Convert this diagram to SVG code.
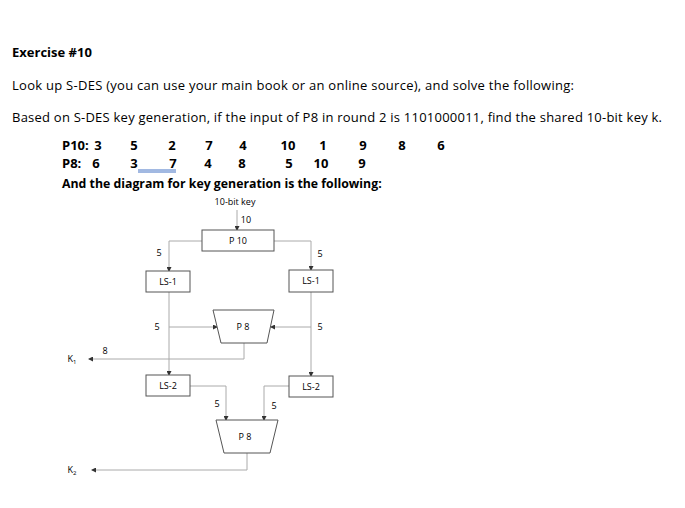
<svg xmlns="http://www.w3.org/2000/svg" width="685" height="508" viewBox="0 0 685 508">
<style>
.t{font-family:"Open Sans","Liberation Sans",sans-serif;font-size:13px;fill:#000}
.b{font-weight:bold}
.n{text-anchor:middle}
.s{font-family:"Open Sans","Liberation Sans",sans-serif;font-size:9px;fill:#000;text-anchor:middle}
.box{fill:#fff;stroke:#555;stroke-width:1}
.ln{fill:none;stroke:#aaa;stroke-width:1}
</style>
<defs><marker id="a" markerWidth="5" markerHeight="5" refX="4" refY="2.5" orient="auto"><path d="M0,0 L5,2.5 L0,5Z" fill="#333"/></marker></defs>
<rect width="685" height="508" fill="#fff"/>
<text class="t b" x="12" y="57">Exercise #10</text>
<text class="t" x="12" y="90" textLength="562">Look up S-DES (you can use your main book or an online source), and solve the following:</text>
<text class="t" x="12" y="122" textLength="650">Based on S-DES key generation, if the input of P8 in round 2 is 1101000011, find the shared 10-bit key k.</text>
<g class="t b">
<text x="62" y="150">P10:</text>
<text class="n" x="98" y="150">3</text><text class="n" x="134" y="150">5</text><text class="n" x="172" y="150">2</text><text class="n" x="209" y="150">7</text><text class="n" x="243" y="150">4</text><text class="n" x="288" y="150">10</text><text class="n" x="323" y="150">1</text><text class="n" x="363" y="150">9</text><text class="n" x="402" y="150">8</text><text class="n" x="441" y="150">6</text>
<text x="62" y="168">P8:</text>
<text class="n" x="96" y="168">6</text><text class="n" x="134" y="168">3</text><text class="n" x="173" y="168">7</text><text class="n" x="208" y="168">4</text><text class="n" x="242" y="168">8</text><text class="n" x="289" y="168">5</text><text class="n" x="321" y="168">10</text><text class="n" x="362" y="168">9</text>
<text x="62" y="188" font-size="12.3">And the diagram for key generation is the following:</text>
</g>
<line x1="138" y1="170" x2="176" y2="170" stroke="#4472c4"/><line x1="138" y1="172" x2="176" y2="172" stroke="#4472c4"/>
<g id="connectors">
<line class="ln" x1="237" y1="210" x2="237" y2="230" marker-end="url(#a)"/>
<path class="ln" d="M202,241 H169 V271" marker-end="url(#a)"/>
<path class="ln" d="M274,241 H311 V270" marker-end="url(#a)"/>
<path class="ln" d="M169,292 V375" marker-end="url(#a)"/>
<path class="ln" d="M311,292 V376" marker-end="url(#a)"/>
<path class="ln" d="M169,327 H217" marker-end="url(#a)"/>
<path class="ln" d="M311,327 H271" marker-end="url(#a)"/>
<path class="ln" d="M244,343 V359 H89" marker-end="url(#a)"/>
<path class="ln" d="M190,386 H226 V420" marker-end="url(#a)"/>
<path class="ln" d="M289,386 H264 V420" marker-end="url(#a)"/>
<path class="ln" d="M247,453 V470 H92" marker-end="url(#a)"/>
<text class="s" x="246" y="223">10</text>
<text class="s" x="159" y="256">5</text><text class="s" x="320" y="257">5</text>
<text class="s" x="157" y="330">5</text><text class="s" x="320" y="330">5</text>
<text class="s" x="105" y="354">8</text>
<text class="s" x="217" y="407">5</text><text class="s" x="274" y="409">5</text>
</g>
<g id="key"><text class="s" x="235" y="205">10-bit key</text></g>
<g id="p10"><rect class="box" x="202" y="230" width="72" height="21"/><text class="s" x="238" y="244">P 10</text></g>
<g id="ls1l"><rect class="box" x="146" y="271" width="44" height="21"/><text class="s" x="168" y="285">LS-1</text></g>
<g id="ls1r"><rect class="box" x="289" y="270" width="44" height="22"/><text class="s" x="311" y="284">LS-1</text></g>
<g id="p8a"><path class="box" d="M213,310 H274 L267,343 H221Z"/><text class="s" x="243" y="330">P 8</text></g>
<g id="ls2l"><rect class="box" x="146" y="375" width="44" height="21"/><text class="s" x="168" y="389">LS-2</text></g>
<g id="ls2r"><rect class="box" x="289" y="376" width="44" height="21"/><text class="s" x="311" y="390">LS-2</text></g>
<g id="p8b"><path class="box" d="M216,420 H278 L270,453 H224Z"/><text class="s" x="245" y="440">P 8</text></g>
<g id="k1"><text class="s" x="72" y="362">K<tspan font-size="6" dy="2">1</tspan></text></g>
<g id="k2"><text class="s" x="72" y="473">K<tspan font-size="6" dy="2">2</tspan></text></g>
</svg>
